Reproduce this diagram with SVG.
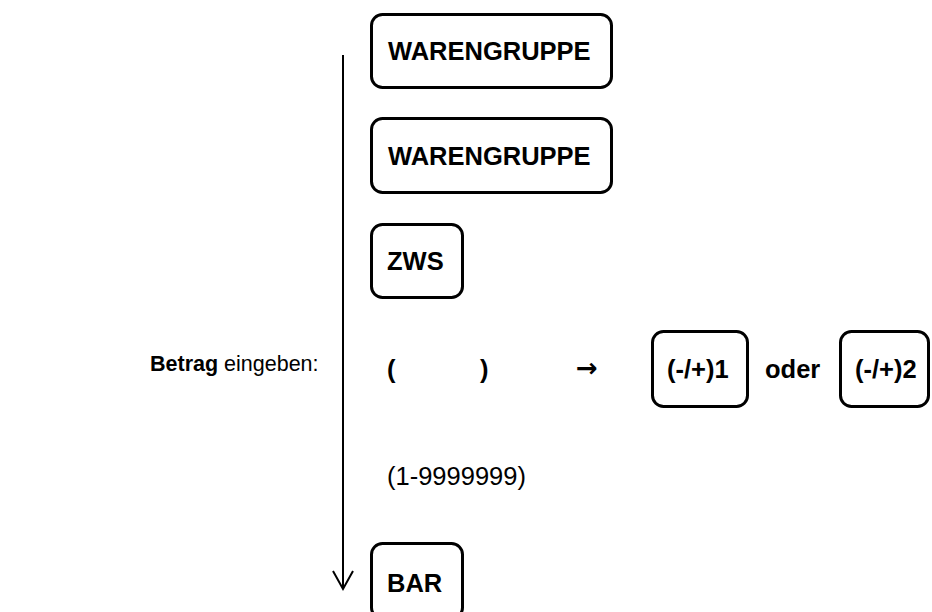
<svg xmlns="http://www.w3.org/2000/svg" width="932" height="612" viewBox="0 0 932 612">
<style>
.key{fill:#fff;stroke:#000;stroke-width:3}
.b{font-family:"Liberation Sans",Arial,sans-serif;font-weight:bold;font-size:25.5px;fill:#000}
.r{font-family:"Liberation Sans",Arial,sans-serif;font-size:25.5px;fill:#000}
.lb{font-family:"Liberation Sans",Arial,sans-serif;font-size:21.5px;fill:#000}
.line{stroke:#000;stroke-width:2;fill:none}
</style>
<rect width="932" height="612" fill="#fff"/>
<g id="connectors">
<line class="line" x1="343" y1="55" x2="343" y2="589"/>
<polyline class="line" points="333,571 343,589 353,571"/>
</g>
<g id="label-betrag">
<text class="lb" x="150" y="371"><tspan font-weight="bold">Betrag</tspan> eingeben:</text>
</g>
<g id="key-warengruppe-1">
<rect class="key" x="371.5" y="14.5" width="240" height="73" rx="11"/>
<text class="b" x="388" y="60">WARENGRUPPE</text>
</g>
<g id="key-warengruppe-2">
<rect class="key" x="371.5" y="118.5" width="240" height="74" rx="11"/>
<text class="b" x="388" y="165">WARENGRUPPE</text>
</g>
<g id="key-zws">
<rect class="key" x="371.5" y="224.5" width="91" height="73" rx="11"/>
<text class="b" x="387" y="270">ZWS</text>
</g>
<g id="amount-row">
<text class="b" x="387" y="378">(</text>
<text class="b" x="480" y="378">)</text>
<text x="576" y="377" font-family="DejaVu Sans, sans-serif" font-size="26px" font-weight="bold">→</text>
</g>
<g id="key-minus-plus-1">
<rect class="key" x="652.5" y="331.5" width="95" height="75" rx="11"/>
<text class="b" x="667" y="378">(-/+)1</text>
</g>
<g id="label-oder">
<text class="b" x="765" y="378">oder</text>
</g>
<g id="key-minus-plus-2">
<rect class="key" x="840.5" y="331.5" width="88" height="75" rx="11"/>
<text class="b" x="855" y="378">(-/+)2</text>
</g>
<g id="label-range">
<text class="r" x="387" y="485">(1-9999999)</text>
</g>
<g id="key-bar">
<rect class="key" x="371.5" y="543.5" width="91" height="75" rx="11"/>
<text class="b" x="387" y="592">BAR</text>
</g>
</svg>
